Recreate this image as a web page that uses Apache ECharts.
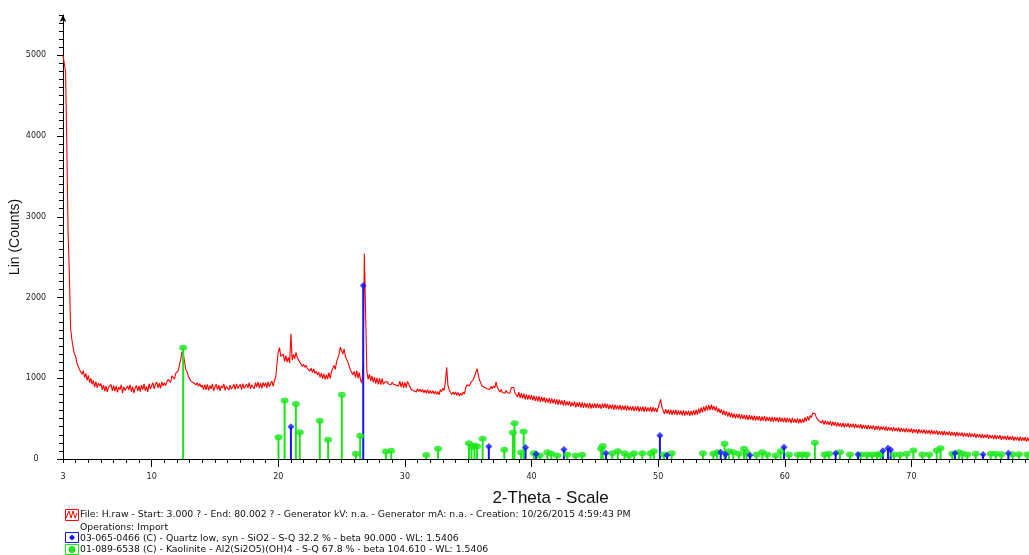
<!DOCTYPE html>
<html>
<head>
<meta charset="utf-8">
<script src="https://cdn.jsdelivr.net/npm/echarts@6/dist/echarts.min.js"></script>
<style>
html,body{margin:0;padding:0;background:#fff;}
#chart{width:1029px;height:555px;}
</style>
</head>
<body>
<div id="chart"></div>
<script>
// Measured pattern H.raw: 2-Theta from 3.0 in 0.1 degree steps
const startAngle = 3.0;
const stepAngle = 0.1;
const intensity = [
5000,5000,4800,3900,2800,2300,1620,1480,1380,1300,
1270,1190,1200,1110,1130,1050,1095,1010,1060,975,
1035,945,1000,925,975,890,960,880,940,905,
935,855,915,840,905,830,890,870,920,845,
910,840,905,825,890,860,920,815,895,850,
830,905,855,920,835,895,815,880,910,840,
905,835,915,860,930,845,900,830,935,870,
880,945,870,925,955,880,940,875,955,905,
945,910,955,985,1000,950,1030,1015,990,1060,
1075,1095,1170,1235,1330,1295,1210,1105,1080,1025,
1020,965,985,945,965,920,945,900,935,890,
915,860,920,855,925,850,910,870,930,845,
895,925,860,915,845,905,880,930,850,900,
920,855,915,865,845,925,860,930,875,890,
925,860,935,875,855,930,880,945,870,920,
935,870,945,890,955,880,940,875,950,900,
945,880,955,895,935,965,900,975,1010,1180,
1330,1380,1270,1255,1300,1210,1280,1200,1260,1190,
1550,1225,1295,1240,1320,1255,1270,1200,1210,1145,
1175,1135,1160,1120,1140,1090,1125,1070,1115,1060,
1085,1040,1075,1010,1065,995,1055,985,1045,990,
1070,1000,1080,1085,1160,1110,1200,1210,1300,1385,
1375,1300,1365,1270,1285,1200,1190,1100,1110,1045,
1085,1010,1095,1000,1070,975,940,1150,2545,1780,
1080,985,1050,965,1030,950,1015,935,1005,925,
1000,920,1000,925,950,940,960,930,945,920,
950,925,940,915,930,905,965,890,955,880,
950,885,960,930,935,860,865,845,865,830,
870,835,865,830,860,820,855,815,860,810,
850,810,845,805,840,800,835,795,860,835,
875,850,960,1135,915,855,870,800,830,800,
830,790,825,780,815,790,830,805,880,920,
925,905,945,925,985,980,1070,1120,1040,975,
985,905,920,885,900,870,885,860,900,870,
905,880,955,890,895,830,860,825,845,815,
850,820,840,815,885,865,885,815,830,770,
830,755,815,750,810,740,800,735,795,735,
790,725,785,720,775,715,780,705,770,710,
765,695,755,700,755,685,750,690,740,680,
740,670,735,675,725,665,730,660,715,665,
715,650,705,655,710,640,700,645,705,635,
700,635,695,638,690,628,695,625,685,632,
690,630,688,632,678,622,686,635,690,628,
684,618,672,622,676,610,672,616,664,612,
668,604,660,610,664,598,660,604,652,600,
656,592,650,598,654,588,646,594,648,584,
650,586,640,590,646,580,642,586,632,582,
634,650,738,640,620,558,618,562,610,554,
612,548,606,554,610,544,602,550,598,542,
602,538,596,544,600,534,596,540,602,544,
612,550,624,564,638,578,650,590,662,602,
666,606,672,610,658,600,648,580,628,570,
616,548,602,542,590,524,580,520,572,510,
566,504,558,506,560,494,554,498,546,492,
546,482,542,488,536,480,538,476,530,480,
532,470,526,476,530,466,522,472,520,464,
522,460,520,466,514,456,518,460,508,458,
512,450,510,456,504,446,508,450,498,448,
502,440,500,446,498,452,514,466,528,480,
540,512,568,548,560,510,520,474,486,446,
482,426,476,428,466,422,468,412,462,414,
458,402,452,406,444,396,448,392,440,398,
444,388,436,392,438,382,434,386,426,384,
432,374,422,378,418,368,422,372,412,370,
416,360,408,366,410,356,404,362,402,354,
404,348,396,354,392,342,396,346,386,344,
390,334,382,340,378,330,382,332,372,330,
378,322,370,328,366,316,370,320,360,318,
366,310,358,316,356,306,360,306,350,310,
354,298,346,304,344,294,348,296,338,298,
342,286,334,292,332,282,336,284,326,286,
330,274,322,280,320,270,324,272,314,274,
318,262,310,268,308,258,312,260,302,262,
306,250,298,256,296,246,300,248,290,250,
294,238,286,244,284,234,288,236,278,238,
282,226,274,232,272,222,276,224,266,226,
272,216,264,222,262,212,266,214,256,216,
240
];

// Kaolinite reference pattern (01-089-6538)
const kaoliniteAngles = [12.49,20.02,20.5,21.39,21.7,23.28,23.94,25.02,26.13,26.47,28.5,28.92,31.69,32.62,35.06,35.26,35.5,35.7,36.14,37.85,38.53,38.66,39.18,39.38,40.19,40.66,41.25,41.56,42.03,42.82,43.48,44.0,45.5,45.63,46.38,46.82,47.35,47.7,48.1,48.75,49.4,49.67,50.46,51.07,53.54,54.36,54.67,55.25,55.59,55.94,56.38,56.78,56.97,57.78,58.23,58.62,59.28,59.68,60.33,61.04,61.39,61.73,62.38,63.15,63.49,64.36,65.15,66.0,66.5,66.9,67.3,67.56,68.62,69.1,69.63,70.16,70.87,71.4,72.0,72.3,73.23,73.76,74.02,74.42,75.08,76.27,76.66,77.11,77.98,78.5,79.16];
const kaoliniteCounts = [1379,270,725,680,330,473,238,795,64,287,93,101,50,126,196,150,167,155,252,116,329,444,79,341,72,43,85,64,43,56,43,52,126,162,72,97,72,43,72,72,72,97,56,72,72,64,85,188,97,85,64,126,85,56,85,56,43,97,56,56,56,56,200,56,64,85,56,56,56,56,60,60,56,56,64,105,56,56,105,134,64,85,64,56,64,64,64,60,60,60,56];

// Quartz reference pattern (03-065-0466)
const quartzAngles = [21.0,26.71,36.63,39.53,40.37,42.56,45.88,50.14,50.7,54.94,55.33,57.25,59.94,64.02,65.78,67.75,68.15,68.36,73.44,75.66,77.66];
const quartzCounts = [400,2150,155,141,62,118,72,291,47,85,60,47,147,72,56,101,134,114,72,56,72];

const xTickLabels = [3,10,20,30,40,50,60,70];
const yTickLabels = [0,1000,2000,3000,4000,5000];

const xMin = 3, xMax = 80, yMin = 0, yMax = 5500;

const lineData = intensity.map((v, i) => [+(startAngle + i * stepAngle).toFixed(2), v]);
const kaoData = kaoliniteAngles.map((a, i) => [a, kaoliniteCounts[i]]);
const qtzData = quartzAngles.map((a, i) => [a, quartzCounts[i]]);

const xMinorTicks = [];
for (let v = xMin; v <= xMax; v += 1) xMinorTicks.push(v);
const yMinorTicks = [];
for (let v = yMin; v <= yMax; v += 100) yMinorTicks.push(v);
const xMajorTicks = xTickLabels.filter(v => v % 10 === 0);

const GREEN = '#19e619';
const BLUE = '#1414ff';
const RED = '#ff0000';
const FONT = 'DejaVu Sans';

function stickRenderer(color) {
  return function (params, api) {
    const x = api.value(0), y = api.value(1);
    const p0 = api.coord([x, 0]);
    const p1 = api.coord([x, y]);
    return {
      type: 'line',
      shape: { x1: p0[0], y1: p0[1], x2: p1[0], y2: p1[1] },
      style: { stroke: color, lineWidth: 2 }
    };
  };
}

const plain = v => String(v);

const chart = echarts.init(document.getElementById('chart'), null, { renderer: 'canvas' });

const legendFont = '9.3px "DejaVu Sans"';
chart.setOption({
  animation: false,
  backgroundColor: '#ffffff',
  grid: { left: 63, right: -9, top: 15, bottom: 96, containLabel: false, outerBoundsMode: 'none' },
  xAxis: [{
    type: 'value', min: xMin, max: xMax, position: 'bottom',
    name: '2-Theta - Scale', nameLocation: 'middle', nameGap: 31, nameMoveOverlap: false,
    nameTextStyle: { fontFamily: 'Liberation Sans', fontSize: 17, color: '#111' },
    axisLine: { show: true, onZero: false, lineStyle: { color: '#000', width: 1 } },
    axisTick: { show: true, customValues: xMinorTicks, length: 4, lineStyle: { color: '#000' } },
    axisLabel: { show: true, customValues: xTickLabels, formatter: plain, margin: 14, fontFamily: FONT, fontSize: 8, color: '#222' },
    splitLine: { show: false }
  }, {
    type: 'value', min: xMin, max: xMax, position: 'bottom', offset: 0,
    axisLine: { show: false },
    axisTick: { show: true, customValues: xMajorTicks, length: 8, lineStyle: { color: '#000' } },
    axisLabel: { show: false },
    splitLine: { show: false }
  }],
  yAxis: [{
    type: 'value', min: yMin, max: yMax, position: 'left',
    name: 'Lin (Counts)', nameLocation: 'middle', nameGap: 41, nameRotate: 90, nameMoveOverlap: false,
    nameTextStyle: { fontFamily: 'Liberation Sans', fontSize: 14, color: '#111' },
    axisLine: { show: true, onZero: false, symbol: ['none', 'arrow'], symbolSize: [5, 7], lineStyle: { color: '#000', width: 1 } },
    axisTick: { show: true, customValues: yMinorTicks, length: 4, lineStyle: { color: '#000' } },
    axisLabel: { show: true, customValues: yTickLabels, formatter: plain, margin: 27, align: 'center', fontFamily: FONT, fontSize: 8, color: '#222' },
    splitLine: { show: false }
  }, {
    type: 'value', min: yMin, max: yMax, position: 'left', offset: 0,
    axisLine: { show: false },
    axisTick: { show: true, customValues: yTickLabels, length: 6, lineStyle: { color: '#000' } },
    axisLabel: { show: false },
    splitLine: { show: false }
  }],
  series: [{
    type: 'line', name: 'H.raw', data: lineData, xAxisIndex: 0, yAxisIndex: 0,
    showSymbol: false, symbol: 'none', lineStyle: { color: RED, width: 1.1 }, z: 2
  }, {
    type: 'custom', name: 'Kaolinite', data: kaoData, xAxisIndex: 0, yAxisIndex: 0,
    renderItem: stickRenderer(GREEN), encode: { x: 0, y: 1 }, z: 3
  }, {
    type: 'custom', name: 'Quartz', data: qtzData, xAxisIndex: 0, yAxisIndex: 0,
    renderItem: stickRenderer(BLUE), encode: { x: 0, y: 1 }, z: 4
  }, {
    type: 'scatter', data: kaoData, xAxisIndex: 0, yAxisIndex: 0,
    symbol: 'circle', symbolSize: [8, 6], itemStyle: { color: GREEN }, z: 5
  }, {
    type: 'scatter', data: qtzData, xAxisIndex: 0, yAxisIndex: 0,
    symbol: 'diamond', symbolSize: [7, 7], itemStyle: { color: BLUE }, z: 6
  }],
  graphic: [
    { type: 'rect', shape: { x: 65.5, y: 509.5, width: 13, height: 11 }, style: { fill: 'none', stroke: RED, lineWidth: 1 } },
    { type: 'polyline', shape: { points: [[66, 518], [69, 511], [71, 518], [73, 511], [75, 518], [77, 513]] }, style: { fill: 'none', stroke: RED, lineWidth: 1 } },
    { type: 'text', x: 80, y: 515, style: { text: 'File: H.raw - Start: 3.000 ? - End: 80.002 ? - Generator kV: n.a. - Generator mA: n.a. - Creation: 10/26/2015 4:59:43 PM', font: legendFont, fill: '#111', verticalAlign: 'middle' } },
    { type: 'text', x: 80, y: 528, style: { text: 'Operations: Import', font: legendFont, fill: '#111', verticalAlign: 'middle' } },
    { type: 'rect', shape: { x: 65.5, y: 532.5, width: 13, height: 10 }, style: { fill: 'none', stroke: BLUE, lineWidth: 1 } },
    { type: 'polygon', shape: { points: [[72, 534.5], [75, 537.5], [72, 540.5], [69, 537.5]] }, style: { fill: BLUE } },
    { type: 'text', x: 80, y: 538.5, style: { text: '03-065-0466 (C) - Quartz low, syn - SiO2 - S-Q 32.2 % - beta 90.000 - WL: 1.5406', font: legendFont, fill: '#111', verticalAlign: 'middle' } },
    { type: 'rect', shape: { x: 65.5, y: 544.5, width: 13, height: 10 }, style: { fill: 'none', stroke: GREEN, lineWidth: 1 } },
    { type: 'circle', shape: { cx: 72, cy: 549.5, r: 3.5 }, style: { fill: GREEN } },
    { type: 'text', x: 80, y: 549.5, style: { text: '01-089-6538 (C) - Kaolinite - Al2(Si2O5)(OH)4 - S-Q 67.8 % - beta 104.610 - WL: 1.5406', font: legendFont, fill: '#111', verticalAlign: 'middle' } }
  ]
});
</script>
</body>
</html>
